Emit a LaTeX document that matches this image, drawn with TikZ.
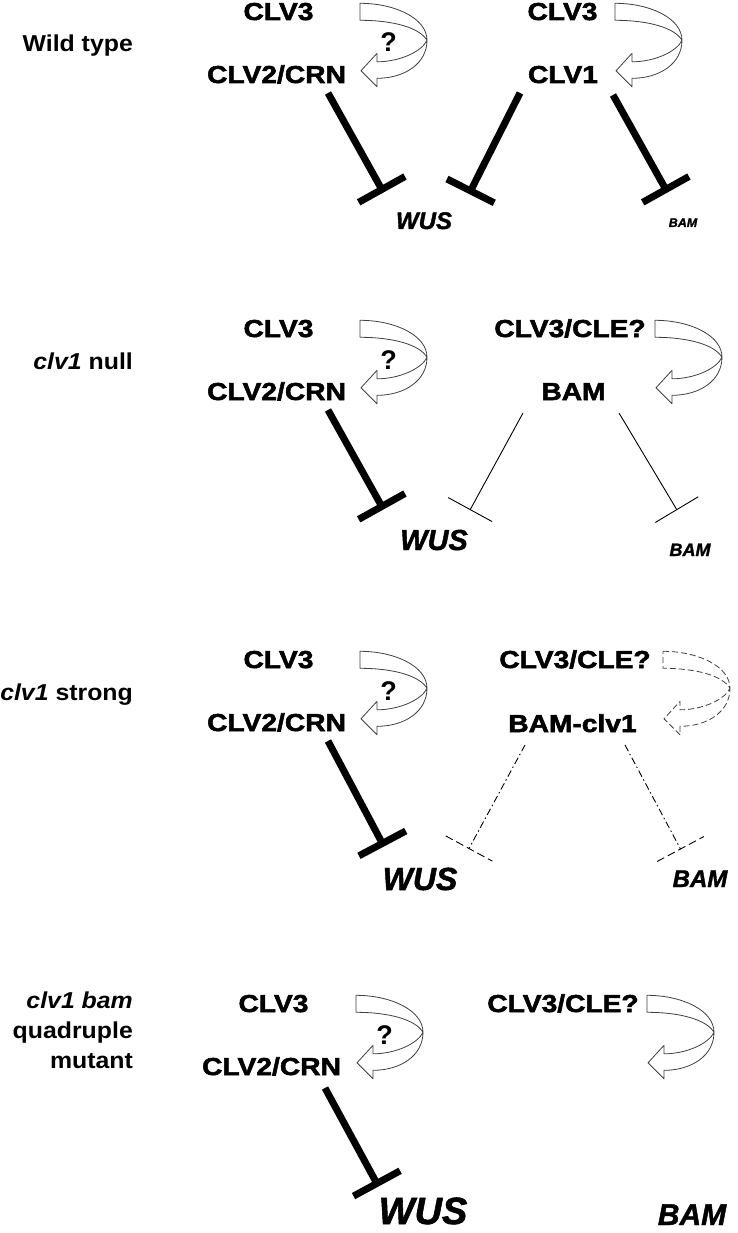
\documentclass[tikz,border=0pt]{standalone}
\usepackage{fontspec}
\setmainfont{Liberation Sans}
\newfontfamily\heavy{Liberation Sans}[FakeStretch=1.15, BoldFeatures={FakeBold=2.2}]
\newfontfamily\genefont{Liberation Sans}[BoldItalicFeatures={FakeBold=1.5}]
\newfontfamily\labfont{Liberation Sans}[FakeStretch=1.08]
\usetikzlibrary{arrows.meta,calc}
\tikzset{
  prot/.style={font=\heavy\bfseries\fontsize{24.5}{28}\selectfont, inner sep=0pt, anchor=base},
  qmark/.style={font=\bfseries\fontsize{27}{30}\selectfont, inner sep=0pt, anchor=base},
  gene/.style={font=\genefont\bfseries\itshape\fontsize{#1}{#1}\selectfont, inner sep=0pt, anchor=base},
  lab/.style={font=\labfont\bfseries\fontsize{23}{30}\selectfont, inner sep=0pt, anchor=base east},
  ribbon/.style={draw=black!75, line width=0.8pt, fill=white, line join=round},
  inhib/.style={line width=7pt, -{Bar[width=53pt]}},
  thinhib/.style={line width=0.9pt, -{Bar[width=50pt]}},
  dashdot/.style={line width=0.9pt, dash pattern=on 7pt off 3pt on 1.5pt off 3pt},
  dashbar/.style={line width=0.9pt, dash pattern=on 8pt off 4pt},
  rib/.pic={
    \draw[ribbon, pic actions] (0,0) .. controls (35,0) and (67,15) .. (67,37)
      .. controls (67,60) and (45,75) .. (17,75) -- (17,83.5) -- (1,67.5) -- (17,50) -- (17,58.5)
      .. controls (40,58.5) and (62,48) .. (67,37)
      .. controls (60,25) and (35,17) .. (0,17) -- cycle;
  },
}
\begin{document}
\begin{tikzpicture}[x=1pt,y=-1pt]
\useasboundingbox (0,0) rectangle (737,1233);

% ---------- Panel 1: Wild type ----------
\node[lab] (lab1) at (133,52) {Wild type};
\pic at (360,3.3) {rib};
\pic at (615,3.3) {rib};
\node[prot] (p1a) at (278.5,20) {CLV3};
\node[prot] (p1b) at (276.5,83) {CLV2/CRN};
\node[qmark] (q1) at (388.5,52) {?};
\node[prot] (p1c) at (562.5,20) {CLV3};
\node[prot] (p1d) at (563,83) {CLV1};
\node[gene=24] (w1) at (424,229) {WUS};
\node[gene=12.5] (b1) at (683,227) {BAM};
\coordinate (s1a) at (328,93);  \coordinate (e1a) at (383.5,192.5);
\coordinate (s1b) at (520,93);  \coordinate (e1b) at (469,194);
\coordinate (s1c) at (613,95);  \coordinate (e1c) at (667.5,192.5);
\draw[inhib] (s1a) -- (e1a);
\draw[inhib] (s1b) -- (e1b);
\draw[inhib] (s1c) -- (e1c);

% ---------- Panel 2: clv1 null ----------
\node[lab] (lab2) at (133,369) {\itshape clv1\upshape{} null};
\pic at (360,320.3) {rib};
\pic at (655,320.3) {rib};
\node[prot] (p2a) at (278.5,337) {CLV3};
\node[prot] (p2b) at (276.5,400) {CLV2/CRN};
\node[qmark] (q2) at (388.5,369) {?};
\node[prot] (p2c) at (570,337) {CLV3/CLE?};
\node[prot] (p2d) at (573.5,400) {BAM};
\node[gene=29] (w2) at (434,550) {WUS};
\node[gene=18] (b2) at (690,556) {BAM};
\coordinate (s2a) at (328,410);  \coordinate (e2a) at (383.5,509.5);
\coordinate (s2b) at (523,413);  \coordinate (e2b) at (470,510);
\coordinate (s2c) at (619,413);  \coordinate (e2c) at (677,510);
\draw[inhib] (s2a) -- (e2a);
\draw[thinhib] (s2b) -- (e2b);
\draw[thinhib] (s2c) -- (e2c);

% ---------- Panel 3: clv1 strong ----------
\node[lab] (lab3) at (133,700) {\itshape clv1\upshape{} strong};
\pic at (360,651.3) {rib};
\pic[dash pattern=on 6pt off 3pt] at (663,651.3) {rib};
\node[prot] (p3a) at (278.5,668) {CLV3};
\node[prot] (p3b) at (276.5,731) {CLV2/CRN};
\node[qmark] (q3) at (388.5,700) {?};
\node[prot] (p3c) at (575,668) {CLV3/CLE?};
\node[prot] (p3d) at (572.5,732) {BAM-clv1};
\node[gene=32] (w3) at (420,890) {WUS};
\node[gene=24] (b3) at (700,887) {BAM};
\coordinate (s3a) at (328,741);  \coordinate (e3a) at (384,846.5);
\coordinate (s3b) at (525,745);  \coordinate (e3b) at (469,848.5);
\coordinate (s3c) at (625,745);  \coordinate (e3c) at (680.5,849);
\draw[inhib] (s3a) -- (e3a);
\draw[dashdot] (s3b) -- (e3b);
\draw[dashdot] (s3c) -- (e3c);
\draw[dashbar] ($(e3b)!26.5pt!90:(s3b)$) -- ($(e3b)!26.5pt!-90:(s3b)$);
\draw[dashbar] ($(e3c)!26.5pt!90:(s3c)$) -- ($(e3c)!26.5pt!-90:(s3c)$);

% ---------- Panel 4: clv1 bam quadruple mutant ----------
\node[lab] (lab4a) at (133,1008) {\itshape clv1 bam};
\node[lab] (lab4b) at (133,1038) {quadruple};
\node[lab] (lab4c) at (133,1068) {mutant};
\pic at (356,995.3) {rib};
\pic at (647,995.3) {rib};
\node[prot] (p4a) at (273.5,1012) {CLV3};
\node[prot] (p4b) at (271.5,1075) {CLV2/CRN};
\node[qmark] (q4) at (384.5,1044) {?};
\node[prot] (p4c) at (563,1012) {CLV3/CLE?};
\node[gene=38] (w4) at (423,1224) {WUS};
\node[gene=30] (b4) at (692,1225) {BAM};
\coordinate (s4a) at (325,1088);  \coordinate (e4a) at (378.5,1186.5);
\draw[inhib] (s4a) -- (e4a);
\end{tikzpicture}
\end{document}
